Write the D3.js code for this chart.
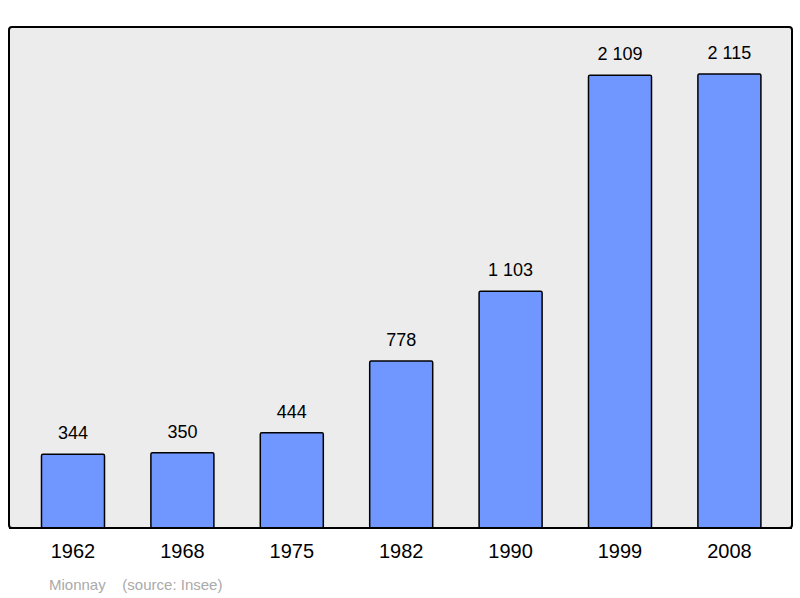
<!DOCTYPE html>
<html>
<head>
<meta charset="utf-8">
<script src="https://cdn.jsdelivr.net/npm/d3@7"></script>
<style>
  body { margin: 0; background: #fff; }
  text { font-family: "Liberation Sans", Arial, sans-serif; }
</style>
</head>
<body>
<svg id="chart"></svg>
<script>
// Population data (Mionnay, source: Insee)
var years = ["1962", "1968", "1975", "1982", "1990", "1999", "2008"];
var population = [344, 350, 444, 778, 1103, 2109, 2115];
var valueLabels = ["344", "350", "444", "778", "1 103", "2 109", "2 115"];

var svgWidth = 800;
var svgHeight = 598;

var svg = d3.select("#chart")
  .attr("width", svgWidth)
  .attr("height", svgHeight);

// Plot background
svg.append("rect")
  .attr("x", 9)
  .attr("y", 27)
  .attr("width", 783)
  .attr("height", 501)
  .attr("rx", 3)
  .attr("fill", "#ececec")
  .attr("stroke", "#000")
  .attr("stroke-width", 2);

var xScale = d3.scaleBand()
  .domain(years)
  .range([18.3, 784.1])
  .paddingInner(0.424)
  .paddingOuter(0.212);

var yScale = d3.scaleLinear()
  .domain([0, 2115])
  .range([528, 74]);

var data = years.map(function (y, i) {
  return { year: y, value: population[i], label: valueLabels[i] };
});

// Bars
svg.selectAll(".bar")
  .data(data)
  .enter()
  .append("rect")
  .attr("class", "bar")
  .attr("x", function (d) { return xScale(d.year); })
  .attr("y", function (d) { return yScale(d.value); })
  .attr("width", xScale.bandwidth())
  .attr("height", function (d) { return yScale(0) - yScale(d.value); })
  .attr("rx", 1.5)
  .attr("fill", "#7097ff")
  .attr("stroke", "#000")
  .attr("stroke-width", 1.5);

// Value labels
svg.selectAll(".bar-value")
  .data(data)
  .enter()
  .append("text")
  .attr("class", "bar-value")
  .attr("x", function (d) { return xScale(d.year) + xScale.bandwidth() / 2; })
  .attr("y", function (d) { return yScale(d.value) - 15; })
  .attr("text-anchor", "middle")
  .style("font-size", "18px")
  .text(function (d) { return d.label; });

// Redraw baseline on top of bars
svg.append("line")
  .attr("x1", 9).attr("x2", 792)
  .attr("y1", 528).attr("y2", 528)
  .attr("stroke", "#000")
  .attr("stroke-width", 2);

// X axis labels
var xAxis = svg.append("g")
  .attr("class", "axis")
  .attr("transform", "translate(0,528)")
  .call(d3.axisBottom(xScale).tickSize(0).tickPadding(16));
xAxis.select(".domain").remove();
xAxis.selectAll("text")
  .style("font-size", "20px")
  .style("font-family", "'Liberation Sans', Arial, sans-serif")
  .attr("fill", "#000");

// Footer
svg.append("text")
  .attr("x", 49)
  .attr("y", 590)
  .attr("fill", "#aaaaaa")
  .style("font-size", "15px")
  .attr("xml:space", "preserve")
  .text("Mionnay    (source: Insee)");
</script>
</body>
</html>
